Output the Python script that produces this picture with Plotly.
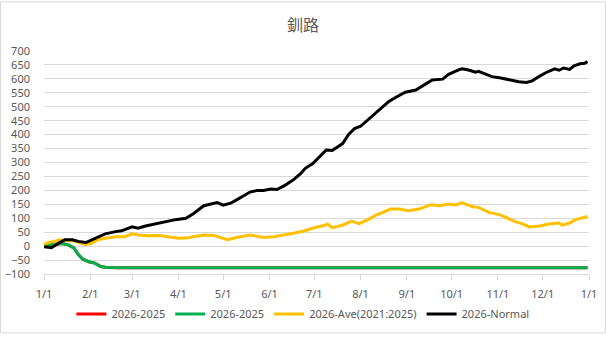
import plotly.graph_objects as go

# ---- data ----
black_dates = ["2026-01-01","2026-01-06","2026-01-11","2026-01-15","2026-01-20","2026-01-24","2026-01-29",
               "2026-02-02","2026-02-06","2026-02-11","2026-02-18","2026-02-22","2026-03-01","2026-03-05",
               "2026-03-10","2026-03-17","2026-03-23","2026-03-30","2026-04-06","2026-04-11","2026-04-18",
               "2026-04-22","2026-04-27","2026-05-01","2026-05-06","2026-05-10","2026-05-15","2026-05-19",
               "2026-05-24","2026-05-28","2026-06-02","2026-06-06","2026-06-11","2026-06-15","2026-06-17",
               "2026-06-22","2026-06-25","2026-06-30","2026-07-04","2026-07-09","2026-07-13","2026-07-20",
               "2026-07-24","2026-07-28","2026-08-01","2026-08-07","2026-08-13","2026-08-20","2026-08-25",
               "2026-08-31","2026-09-07","2026-09-14","2026-09-18","2026-09-25","2026-09-29","2026-10-06",
               "2026-10-08","2026-10-13","2026-10-17","2026-10-19","2026-10-24","2026-10-28","2026-11-02",
               "2026-11-06","2026-11-11","2026-11-15","2026-11-20","2026-11-24","2026-11-29","2026-12-03",
               "2026-12-09","2026-12-12","2026-12-15","2026-12-19","2026-12-22","2026-12-26","2026-12-29",
               "2026-12-31"]
black_vals = [-2, -6, 11, 23, 23, 17, 13,
              23, 34, 44, 52, 55, 69, 64,
              72, 81, 87, 95, 100, 116, 145,
              151, 156, 147, 154, 166, 180, 194,
              200, 200, 205, 203, 217, 232, 238,
              261, 279, 296, 319, 345, 343, 368,
              401, 422, 430, 459, 488, 519, 535,
              552, 560, 581, 596, 599, 616, 633,
              636, 631, 624, 627, 616, 608, 604,
              600, 593, 590, 587, 593, 610, 622,
              636, 631, 639, 634, 647, 654, 656,
              662]

yellow_dates = ["2026-01-01","2026-01-04","2026-01-08","2026-01-12","2026-01-21","2026-01-29","2026-02-02",
                "2026-02-06","2026-02-11","2026-02-18","2026-02-24","2026-03-01","2026-03-05","2026-03-12",
                "2026-03-19","2026-03-25","2026-04-01","2026-04-08","2026-04-11","2026-04-18","2026-04-25",
                "2026-05-04","2026-05-10","2026-05-19","2026-05-28","2026-06-04","2026-06-11","2026-06-17",
                "2026-06-24","2026-07-01","2026-07-08","2026-07-10","2026-07-13","2026-07-20","2026-07-26",
                "2026-07-31","2026-08-07","2026-08-11","2026-08-16","2026-08-21","2026-08-27","2026-09-02",
                "2026-09-09","2026-09-17","2026-09-23","2026-09-29","2026-10-04","2026-10-08","2026-10-15",
                "2026-10-19","2026-10-26","2026-11-02","2026-11-06","2026-11-13","2026-11-17","2026-11-22",
                "2026-11-29","2026-12-05","2026-12-12","2026-12-14","2026-12-19","2026-12-23","2026-12-28",
                "2026-12-31"]
yellow_vals = [5, 13, 17, 23, 18, 5, 11,
               23, 28, 34, 34, 44, 40, 37,
               38, 34, 28, 30, 34, 40, 38,
               23, 31, 40, 31, 34, 40, 46,
               54, 66, 75, 79, 66, 75, 90,
               81, 98, 110, 121, 133, 133, 127,
               133, 148, 145, 151, 148, 156, 141,
               139, 121, 113, 104, 87, 81, 69,
               72, 79, 83, 75, 83, 95, 102,
               106]

green_dates = ["2026-01-01","2026-01-06","2026-01-13","2026-01-17","2026-01-21","2026-01-24","2026-01-27",
               "2026-01-31","2026-02-04","2026-02-08","2026-02-11","2026-02-19","2026-12-31"]
green_vals = [0, 5, 9, 5, -6, -30, -47,
              -56, -61, -73, -76, -78, -78]

red_dates = green_dates
red_vals = green_vals

x_ticks = ["2026-01-01","2026-02-01","2026-03-01","2026-04-01","2026-05-01","2026-06-01",
           "2026-07-01","2026-08-01","2026-09-01","2026-10-01","2026-11-01","2026-12-01","2027-01-01"]
x_tick_labels = ["1/1","2/1","3/1","4/1","5/1","6/1","7/1","8/1","9/1","10/1","11/1","12/1","1/1"]

series = [
    ("2026-2025", red_dates, red_vals, "#FF0000"),
    ("2026-2025", green_dates, green_vals, "#00B050"),
    ("2026-Ave(2021:2025)", yellow_dates, yellow_vals, "#FFC000"),
    ("2026-Normal", black_dates, black_vals, "#000000"),
]

fig = go.Figure()
for name, xs, ys, col in series:
    fig.add_trace(go.Scatter(x=xs, y=ys, mode="lines", name=name,
                             line=dict(color=col, width=3)))

font_fam = "Noto Sans, Noto Sans CJK JP"
fig.update_layout(
    width=606, height=341,
    margin=dict(l=44, r=17, t=51, b=61),
    paper_bgcolor="white", plot_bgcolor="white",
    font=dict(family=font_fam, size=11, color="#595959"),
    title=dict(text="釧路", x=0.5, xanchor="center", y=1 - 25/341, yanchor="middle",
               font=dict(family="Noto Sans CJK JP", size=16, color="#595959")),
    showlegend=True,
    legend=dict(orientation="h", x=0.475, xanchor="center", y=-0.179, yanchor="middle",
                font=dict(size=11, color="#595959"), traceorder="normal"),
    xaxis=dict(range=["2026-01-01", "2027-01-01"], tickmode="array", tickvals=x_ticks,
               ticktext=x_tick_labels, showgrid=False, showline=True, linecolor="#d9d9d9",
               linewidth=1, ticks="outside", ticklen=5, tickcolor="#d9d9d9", zeroline=False,
               ticklabelstandoff=5, automargin=False, tickfont=dict(size=11, color="#595959")),
    yaxis=dict(range=[-100, 700], dtick=50, tick0=0, showgrid=True, gridcolor="#d9d9d9",
               gridwidth=1, zeroline=False, showline=False, ticks="", automargin=False,
               ticklabelstandoff=13, tickfont=dict(size=11, color="#595959")),
    shapes=[dict(type="rect", xref="paper", yref="paper",
                 x0=-43.5/545, x1=(605.5-44)/545, y0=-(340.5-280)/229, y1=1+50.5/229,
                 line=dict(color="#d9d9d9", width=1), fillcolor="rgba(0,0,0,0)", layer="below")],
)

fig.write_html("out.html")
